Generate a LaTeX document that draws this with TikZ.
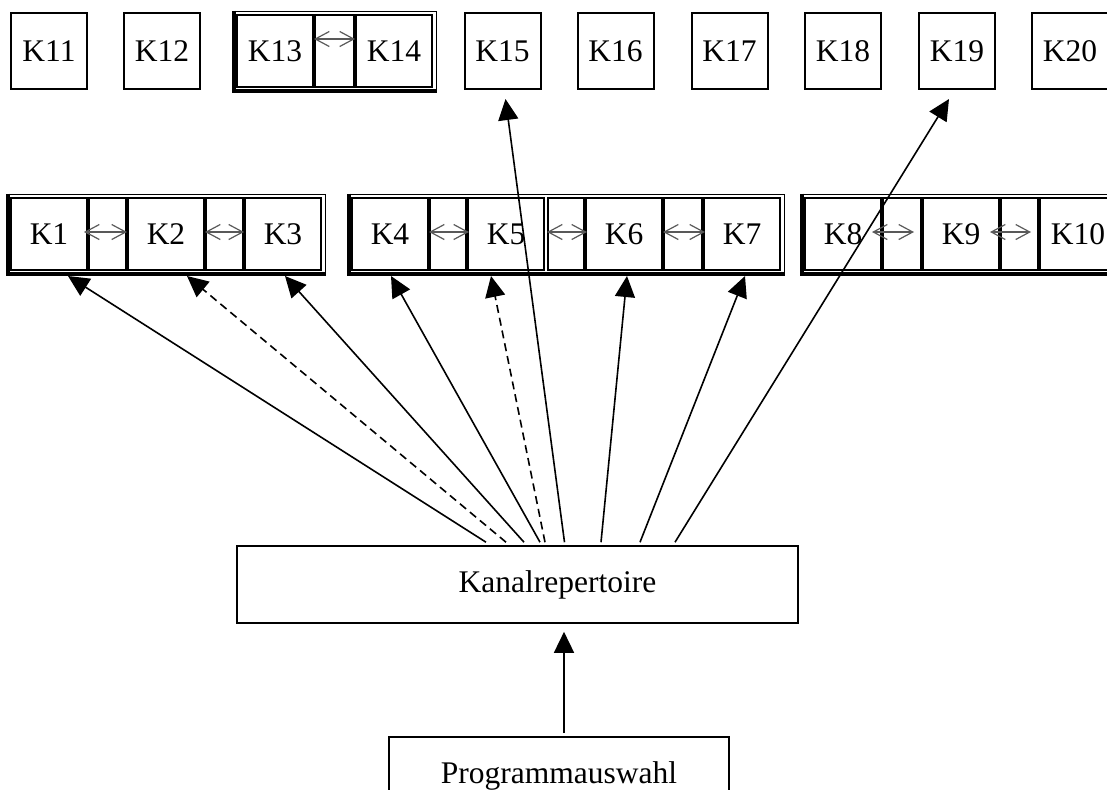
\documentclass[tikz,border=0pt]{standalone}
\usepackage{fontspec}
\setmainfont{Liberation Serif}
\usetikzlibrary{arrows.meta,fit,positioning}

\tikzset{
  kbox/.style={draw, line width=1pt, minimum width=38pt, minimum height=38pt, inner sep=0pt},
  zelle/.style={draw, line width=1pt, minimum width=38pt, minimum height=36pt, inner sep=0pt},
  luecke/.style={draw, line width=1pt, minimum height=36pt, inner sep=0pt},
  gruppe/.style={draw, line width=.5pt, inner sep=1.5pt},
  schatten/.style={line width=2pt},
  tausch/.style={draw=gray!70!black, line width=.6pt,
    {Straight Barb[length=7pt,width=7.5pt]}-{Straight Barb[length=7pt,width=7.5pt]}},
  pfeil/.style={line width=.8pt, -{Triangle[length=10.5pt,width=10pt]}},
  gestrichelt/.style={dash pattern=on 4pt off 2.5pt},
}

\begin{document}
\begin{tikzpicture}[x=.5pt,y=-.5pt,font=\fontsize{15.75}{19}\selectfont]
\useasboundingbox (0,0) rectangle (1107,789);

% obere Reihe
\node[kbox] (K11) at (49,51) {K11};
\node[kbox] (K12) at (162,51) {K12};
\node[zelle] (K13) at (275,51) {K13};
\node[luecke, minimum width=19.5pt, right=0pt of K13] (g1314) {};
\node[zelle, right=0pt of g1314] (K14) {K14};
\node[kbox] (K15) at (502.5,51) {K15};
\node[kbox] (K16) at (615.5,51) {K16};
\node[kbox] (K17) at (729.5,51) {K17};
\node[kbox] (K18) at (843,51) {K18};
\node[kbox] (K19) at (957,51) {K19};
\node[kbox] (K20) at (1070,51) {K20};
\node[gruppe, fit=(K13)(K14)] (G0) {};

% mittlere Reihe
\node[zelle] (K1) at (49,234) {K1};
\node[luecke, minimum width=18.5pt, right=0pt of K1] (g12) {};
\node[zelle, right=0pt of g12] (K2) {K2\hspace{10pt}};
\node[luecke, minimum width=18.5pt, right=0pt of K2] (g23) {};
\node[zelle, right=0pt of g23] (K3) {K3};
\node[gruppe, fit=(K1)(K3)] (G1) {};

\node[zelle] (K4) at (390,234) {K4};
\node[luecke, minimum width=18pt, right=0pt of K4] (g45) {};
\node[zelle, right=0pt of g45] (K5) {K5};
\node[luecke, minimum width=18pt, right=1pt of K5] (g56) {};
\node[zelle, right=0pt of g56] (K6) {K6};
\node[luecke, minimum width=19pt, right=0pt of K6] (g67) {};
\node[zelle, right=0pt of g67] (K7) {K7};
\node[gruppe, fit=(K4)(K7)] (G2) {};

\node[zelle] (K8) at (843,234) {K8};
\node[luecke, minimum width=19pt, right=0pt of K8] (g89) {};
\node[zelle, right=0pt of g89] (K9) {K9};
\node[luecke, minimum width=18.5pt, right=0pt of K9] (g910) {};
\node[zelle, right=0pt of g910] (K10) {K10};
\node[gruppe, fit=(K8)(K10)] (G3) {};

% Schattenkanten links und unten
\draw[schatten] ([xshift=.5pt]G0.north west) -- ([xshift=.5pt,yshift=.5pt]G0.south west) -- ([yshift=.5pt]G0.south east);
\draw[schatten] ([xshift=.5pt]G1.north west) -- ([xshift=.5pt,yshift=.5pt]G1.south west) -- ([yshift=.5pt]G1.south east);
\draw[schatten] ([xshift=.5pt]G2.north west) -- ([xshift=.5pt,yshift=.5pt]G2.south west) -- ([yshift=.5pt]G2.south east);
\draw[schatten] ([xshift=.5pt]G3.north west) -- ([xshift=.5pt,yshift=.5pt]G3.south west) -- ([yshift=.5pt]G3.south east);

% Umschaltpfeile
\draw[tausch] ([yshift=6pt]g1314.west) -- ([yshift=6pt]g1314.east);
\draw[tausch] ([xshift=-2pt,yshift=1pt]g12.west) -- ([yshift=1pt]g12.east);
\draw[tausch] ([yshift=1pt]g23.west) -- ([yshift=1pt]g23.east);
\draw[tausch] ([yshift=1pt]g45.west) -- ([xshift=1pt,yshift=1pt]g45.east);
\draw[tausch] ([yshift=1pt]g56.west) -- ([xshift=1pt,yshift=1pt]g56.east);
\draw[tausch] ([yshift=1pt]g67.west) -- ([xshift=1pt,yshift=1pt]g67.east);
\draw[tausch] ([xshift=-5pt,yshift=1pt]g89.west) -- ([xshift=-4pt,yshift=1pt]g89.east);
\draw[tausch] ([xshift=-5pt,yshift=1pt]g910.west) -- ([xshift=-4pt,yshift=1pt]g910.east);

% untere Kaesten
\node[draw, line width=.8pt, minimum width=280.5pt, minimum height=38.5pt,
  label={[xshift=20pt]center:Kanalrepertoire}] (rep) at (517.5,584.5) {};
\node[draw, line width=.8pt, minimum width=170pt, minimum height=38.5pt] (prog) at (559,775.5) {Programmauswahl};

\draw[pfeil] ([xshift=2.5pt,yshift=1.5pt]prog.north) -- ([xshift=2.5pt,yshift=-4pt]prog.north |- rep.south);

% Verbindungen zu den Kanaelen
\draw[pfeil] ([xshift=-15.75pt,yshift=1.5pt]rep.north) -- ([xshift=9.5pt,yshift=-2.5pt]K1.south);
\draw[pfeil,gestrichelt] ([xshift=-5.75pt,yshift=1.5pt]rep.north) -- ([xshift=10.5pt,yshift=-2.5pt]K2.south);
\draw[pfeil] ([xshift=3.25pt,yshift=1.5pt]rep.north) -- ([xshift=1pt,yshift=-2.5pt]K3.south);
\draw[pfeil] ([xshift=11.25pt,yshift=1.5pt]rep.north) -- ([xshift=.5pt,yshift=-2.5pt]K4.south);
\draw[pfeil,gestrichelt] ([xshift=13.75pt,yshift=1.5pt]rep.north) -- ([xshift=-7.5pt,yshift=-2.5pt]K5.south);
\draw[pfeil] ([xshift=23.5pt,yshift=1.5pt]rep.north) -- ([xshift=1.5pt,yshift=-4.5pt]K15.south);
\draw[pfeil] ([xshift=41.75pt,yshift=1.5pt]rep.north) -- ([xshift=1.5pt,yshift=-2.5pt]K6.south);
\draw[pfeil] ([xshift=61.25pt,yshift=1.5pt]rep.north) -- ([xshift=1.5pt,yshift=-2.5pt]K7.south);
\draw[pfeil] ([xshift=78.75pt,yshift=1.5pt]rep.north) -- ([xshift=-4pt,yshift=-4.5pt]K19.south);

\end{tikzpicture}
\end{document}
